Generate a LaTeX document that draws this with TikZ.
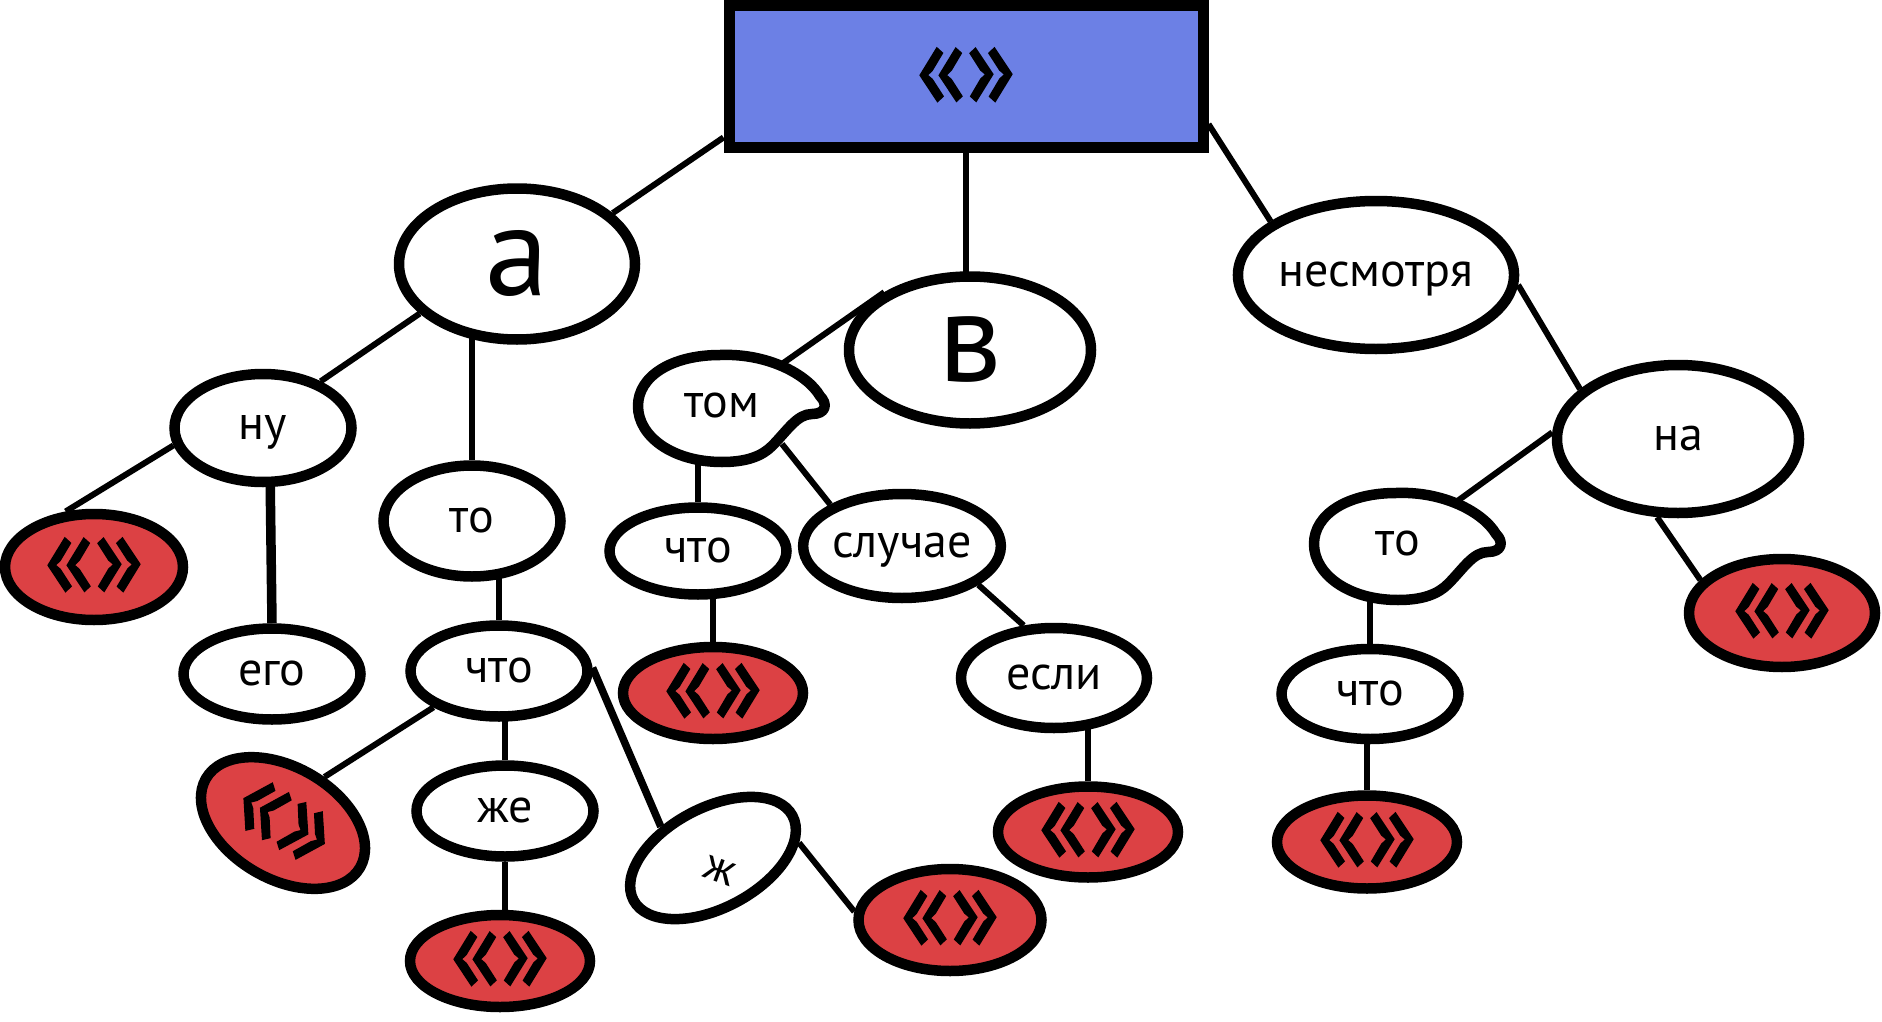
\documentclass[tikz,border=0pt]{standalone}
\usepackage{fontspec}
\usepackage{graphicx}
\setmainfont{PT Sans}
\newfontface\guilface[FakeBold=1.3]{PT Sans}
\usetikzlibrary{shapes.geometric,backgrounds}
\definecolor{boxblue}{RGB}{108,128,229}
\definecolor{leafred}{RGB}{220,65,68}
\newcommand\guil{\scalebox{0.95}[1.08]{\guilface «»}}
\begin{document}
\begin{tikzpicture}[x=1pt,y=-1pt,
  word/.style={ellipse,draw,line width=10.5pt,fill=white,inner sep=0pt,
    font=\fontsize{48}{50}\selectfont,text height=23pt,text depth=0pt},
  bigword/.style={word,font=\fontsize{128}{130}\selectfont,text height=62pt},
  leaf/.style={ellipse,draw,line width=10.5pt,fill=leafred,inner sep=0pt,
    font=\fontsize{110}{110}\selectfont},
  topbox/.style={rectangle,draw,line width=11pt,fill=boxblue,inner sep=0pt,
    font=\fontsize{110}{110}\selectfont},
  link/.style={line width=6pt},
  tearline/.style={line width=10.5pt,fill=white,line join=round},
  tearword/.style={inner sep=0pt,font=\fontsize{48}{50}\selectfont,text height=23pt,text depth=0pt}
]
\useasboundingbox (0,0) rectangle (1882,1022);

% nodes
\node[topbox,minimum width=474pt,minimum height=142pt] (top) at (966,77) {\guil};
\node[bigword,minimum width=236pt,minimum height=151pt] (a) at (517,264) {а};
\node[bigword,minimum width=242pt,minimum height=147pt] (b) at (970,350) {в};
\node[word,minimum width=243pt,minimum height=148pt] (nes) at (1376,275) {несмотря};
\node[word,minimum width=242pt,minimum height=148pt] (na) at (1678,439) {на};
\node[word,minimum width=177pt,minimum height=108pt] (nu) at (263,428) {ну};
\node[word,minimum width=177pt,minimum height=111pt] (to1) at (472,521) {то};
\node[word,minimum width=177pt,minimum height=91pt] (ego) at (272,674) {его};
\node[word,minimum width=177pt,minimum height=91pt] (chto1) at (499,671) {что};
\node[leaf,minimum width=178pt,minimum height=106pt] (rl) at (94,567) {\guil};
\node[leaf,rotate=-30,minimum width=178pt,minimum height=112pt] (rr) at (283,823) {\guil};
\node[word,minimum width=177pt,minimum height=91pt] (zhe) at (505,811) {же};
\node[leaf,minimum width=180pt,minimum height=92pt] (rzhe) at (500,961) {\guil};
\node[word,rotate=28,minimum width=180pt,minimum height=100pt,font=\fontsize{46}{46}\selectfont] (zh) at (713,858) {\rotatebox{-48}{ж}};
\node[leaf,minimum width=183pt,minimum height=102pt] (rz) at (950,920) {\guil};
\node[tearword] (tom) at (722,406) {том};
\node[word,minimum width=177pt,minimum height=87pt] (chto2) at (698,551) {что};
\node[word,minimum width=187pt,minimum height=104pt] (sl) at (902,546) {случае};
\node[word,minimum width=186pt,minimum height=100pt] (esli) at (1054,678) {если};
\node[leaf,minimum width=180pt,minimum height=91pt] (resli) at (1088,832) {\guil};
\node[leaf,minimum width=180pt,minimum height=92pt] (rchto2) at (713,693) {\guil};
\node[tearword] (to2) at (1398,544) {то};
\node[word,minimum width=177pt,minimum height=90pt] (chto3) at (1370,694) {что};
\node[leaf,minimum width=180pt,minimum height=93pt] (rch3) at (1367,842) {\guil};
\node[leaf,minimum width=186pt,minimum height=108pt] (rna) at (1782,613) {\guil};
\coordinate (tomsl) at ([shift={(60pt,-38pt)}]tom.center);

\begin{scope}[on background layer]
\draw[link] (top.194) -- (a.28);
\draw[link] (top.south) -- (top.south |- b.center);
\draw[link] (top.-11) -- (nes.153);
\draw[link] (a.207) -- (nu.39);
\draw[link] (to1.north) -- (to1.north |- a.center);
\draw[link] (nu.191) -- (rl.117);
\draw[line width=9.5pt] (nu.277) -- (ego.north);
\draw[link] (chto1.north) -- (chto1.north |- to1.center);
\draw[link] (chto1.209) -- (rr.78);
\draw[link] (zhe.north) -- (zhe.north |- chto1.center);
\draw[line width=7.5pt] (chto1.2) -- (zh.121);
\draw[link] (zh.-18) -- (rz.175);
\draw[link] (zhe.south) -- (zhe.south |- rzhe.center);
\draw[link] (b.146) -- (tom.center);
\draw[link] (chto2.north) -- (chto2.north |- tom.center);
\draw[link] (tomsl) -- (sl.150);
\draw[link] (sl.-27) -- (esli.120);
\draw[link] (resli.north) -- (resli.north |- esli.center);
\draw[link] (rchto2.north) -- (rchto2.north |- chto2.center);
\draw[link] (nes.-4) -- (na.153);
\draw[link] (na.177) -- (to2.center);
\draw[link] (na.255) -- (rna.158);
\draw[link] (chto3.north) -- (chto3.north |- to2.center);
\draw[link] (rch3.north) -- (rch3.north |- chto3.center);
% teardrop outlines
\foreach \t in {tom,to2}{
\draw[tearline,shift={(\t.center)}] (-2pt,51pt)
  .. controls (45pt,53pt) and (85pt,32pt) .. (98pt,10pt)
  .. controls (106pt,2pt) and (104pt,-8pt) .. (90pt,-8pt)
  .. controls (75pt,-8pt) and (65pt,-25pt) .. (50pt,-40pt)
  .. controls (40pt,-50pt) and (25pt,-56pt) .. (0pt,-56pt)
  .. controls (-50pt,-56pt) and (-84pt,-30pt) .. (-84pt,0pt)
  .. controls (-84pt,30pt) and (-50pt,51pt) .. (-2pt,51pt) -- cycle;
}
\end{scope}
\end{tikzpicture}
\end{document}
